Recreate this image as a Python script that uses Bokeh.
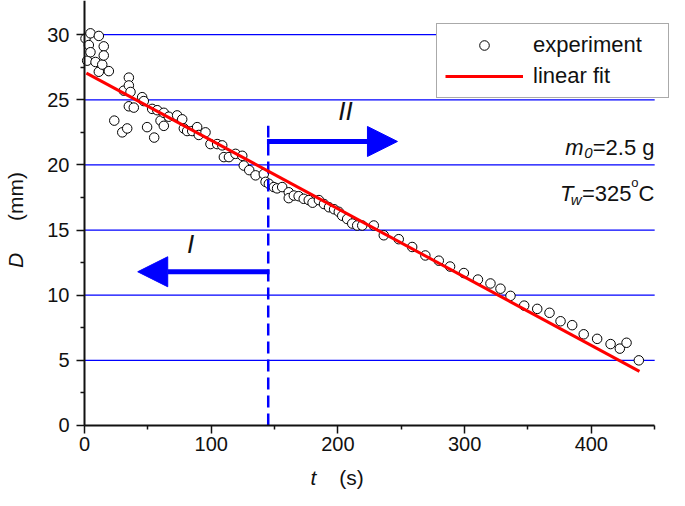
import math
from bokeh.plotting import figure
from bokeh.models import FixedTicker, Label, Arrow, NormalHead, Legend, LegendItem
from bokeh.embed import file_html
from bokeh.resources import INLINE

# ---- data ----
exp_t = [0.8, 2.1, 3.4, 4.7, 4.7, 8.7, 11.3, 11.3, 14.0, 15.2, 15.2, 19.2,
         23.5, 29.8, 33.7, 31.0, 35.0, 35.0, 36.3, 35.0, 38.9, 45.5, 46.8,
         49.4, 53.4, 55.0, 57.4, 60.0, 62.6, 62.6, 66.5, 73.1, 77.1, 78.4,
         81.0, 85.0, 88.9, 90.2, 95.5, 99.4, 104.7, 108.7, 110.0, 114.0,
         119.2, 124.5, 125.7, 130.0, 135.0, 141.5, 142.9, 145.5, 149.4,
         152.0, 156.0, 161.2, 161.2, 165.2, 169.0, 173.0, 177.0, 180.0,
         185.0, 189.0, 193.0, 197.0, 200.7, 203.4, 207.3, 211.3, 215.2,
         219.2, 228.3, 236.2, 248.0, 258.6, 269.0, 279.6, 288.5, 299.4,
         310.5, 320.4, 328.3, 336.2, 347.0, 357.3, 367.0, 375.7, 384.9,
         394.0, 404.6, 415.2, 422.5, 427.8, 437.5]
exp_D = [29.7, 28.0, 29.2, 30.1, 28.65, 27.9, 29.9, 27.15, 27.7, 29.1, 28.4,
         27.2, 23.4, 22.5, 22.8, 25.7, 26.7, 26.1, 25.6, 24.5, 24.4, 25.2,
         24.9, 22.9, 24.3, 22.1, 24.2, 23.4, 24.0, 23.0, 23.7, 23.8, 23.5,
         22.8, 22.6, 22.6, 22.9, 22.3, 22.5, 21.6, 21.6, 21.5, 20.6, 20.6,
         20.85, 20.7, 19.95, 19.6, 19.2, 19.3, 18.7, 18.55, 18.3, 18.2, 18.3,
         17.9, 17.45, 17.65, 17.6, 17.4, 17.3, 17.1, 17.3, 17.0, 16.75, 16.6,
         16.4, 16.1, 15.85, 15.5, 15.35, 15.35, 15.35, 14.6, 14.3, 13.7,
         13.05, 12.65, 12.2, 11.7, 11.2, 10.9, 10.5, 9.95, 9.2, 8.95, 8.65,
         8.0, 7.7, 7.0, 6.65, 6.25, 5.9, 6.35, 5.0]

fit_t = [1.5, 438.0]
fit_D = [27.05, 4.15]

x_ticks = [0, 100, 200, 300, 400]
x_minor = [50, 150, 250, 350, 450]
y_ticks = [0, 5, 10, 15, 20, 25, 30]
y_minor = [2.5, 7.5, 12.5, 17.5, 22.5, 27.5]
x_axis_bounds = (0, 450)
y_axis_bounds = (0, 32.6)

boundary_t = [145.0, 145.0]
boundary_D = [0.0, 23.0]

# arrows: (x_start, y, x_end)
arrow_II = (144.0, 21.8, 247.0)
arrow_I = (146.0, 11.8, 42.0)

FONT = "Liberation Sans"
BLUE = "#0000ff"
INK = "#111111"
W, H = 669, 490

# frame fills the whole canvas; axes are drawn at fixed locations inside it
p = figure(width=W, height=H, x_range=(-66.3, 461.7), y_range=(-4.99, 32.62),
           output_backend="svg", toolbar_location=None,
           min_border_left=0, min_border_right=0, min_border_top=0,
           min_border_bottom=0)
p.outline_line_color = None
p.background_fill_color = "white"
p.border_fill_color = "white"
p.xgrid.visible = False
p.ygrid.visible = False

p.xaxis.ticker = FixedTicker(ticks=x_ticks, minor_ticks=x_minor)
p.yaxis.ticker = FixedTicker(ticks=y_ticks, minor_ticks=y_minor)
p.xaxis.fixed_location = 0
p.yaxis.fixed_location = 0
p.xaxis.bounds = x_axis_bounds
p.yaxis.bounds = y_axis_bounds

for ax in (p.xaxis[0], p.yaxis[0]):
    ax.axis_line_width = 2
    ax.axis_line_color = INK
    ax.major_tick_line_color = INK
    ax.minor_tick_line_color = INK
    ax.major_tick_line_width = 1.5
    ax.minor_tick_line_width = 1.5
    ax.major_tick_out = 8
    ax.major_tick_in = 0
    ax.minor_tick_out = 4
    ax.minor_tick_in = 0
    ax.major_label_text_font = FONT
    ax.major_label_text_font_size = "20px"
    ax.major_label_text_color = INK
p.xaxis.major_label_standoff = 4
p.yaxis.major_label_standoff = 7

# horizontal grid lines limited to the axis extent
grid_y = y_ticks[1:]
p.segment(x0=[x_axis_bounds[0]] * len(grid_y), y0=grid_y,
          x1=[x_axis_bounds[1]] * len(grid_y), y1=grid_y,
          line_color=BLUE, line_width=1.2, level="underlay")

r_exp = p.scatter(exp_t, exp_D, marker="circle", size=9.5, fill_color="white",
                  line_color="black", line_width=1)
p.line(boundary_t, boundary_D, line_color=BLUE, line_width=2.5, line_dash="12 6")
r_fit = p.line(fit_t, fit_D, line_color="#ff0000", line_width=3)

for (xs, yv, xe) in (arrow_II, arrow_I):
    p.add_layout(Arrow(x_start=xs, y_start=yv, x_end=xe, y_end=yv,
                       line_color=BLUE, line_width=5,
                       end=NormalHead(size=30, fill_color=BLUE, line_color=BLUE, line_width=1)))

legend = Legend(items=[LegendItem(label="experiment", renderers=[r_exp]),
                       LegendItem(label="linear fit", renderers=[r_fit])],
                location=(436, 392), orientation="vertical",
                padding=8, spacing=5, margin=0,
                glyph_width=78, glyph_height=24, label_height=24,
                label_width=127, label_standoff=10,
                label_text_font=FONT, label_text_font_size="22px",
                label_text_color=INK,
                border_line_color="#555555", border_line_width=1.5,
                background_fill_color="white", background_fill_alpha=1.0)
p.add_layout(legend, "center")


def lab(text, px, py, size, italic=False, align="left", baseline="alphabetic",
        angle=0.0):
    # px, py: canvas pixels from the top-left corner
    p.add_layout(Label(text=text, x=px, y=H - py, x_units="screen", y_units="screen",
                       text_font=FONT, text_font_size=size,
                       text_font_style="italic" if italic else "normal",
                       text_align=align, text_baseline=baseline,
                       text_color=INK, angle=angle))


# region labels
lab("II", 345, 110, "26px", italic=True, align="center", baseline="middle")
lab("I", 190, 243, "26px", italic=True, align="center", baseline="middle")

# m0 = 2.5 g
lab("=2.5 g", 654, 147, "22px", align="right")
lab("0", 592, 152, "15px", italic=True, align="right")
lab("m", 583, 147, "22px", italic=True, align="right")
# Tw = 325 oC
lab("C", 654, 193, "22px", align="right")
lab("o", 638, 182, "13px", align="right")
lab("=325", 631, 193, "22px", align="right")
lab("w", 581, 199, "15px", italic=True, align="right")
lab("T", 573, 193, "22px", italic=True, align="right")

# axis labels
lab("t", 313, 477, "21px", italic=True, align="center", baseline="middle")
lab("(s)", 351, 477, "21px", align="center", baseline="middle")
lab("D", 15, 260, "21px", italic=True, align="center", baseline="middle", angle=math.pi / 2)
lab("(mm)", 15, 196, "21px", align="center", baseline="middle", angle=math.pi / 2)

open("out.html", "w").write(file_html(p, INLINE))
